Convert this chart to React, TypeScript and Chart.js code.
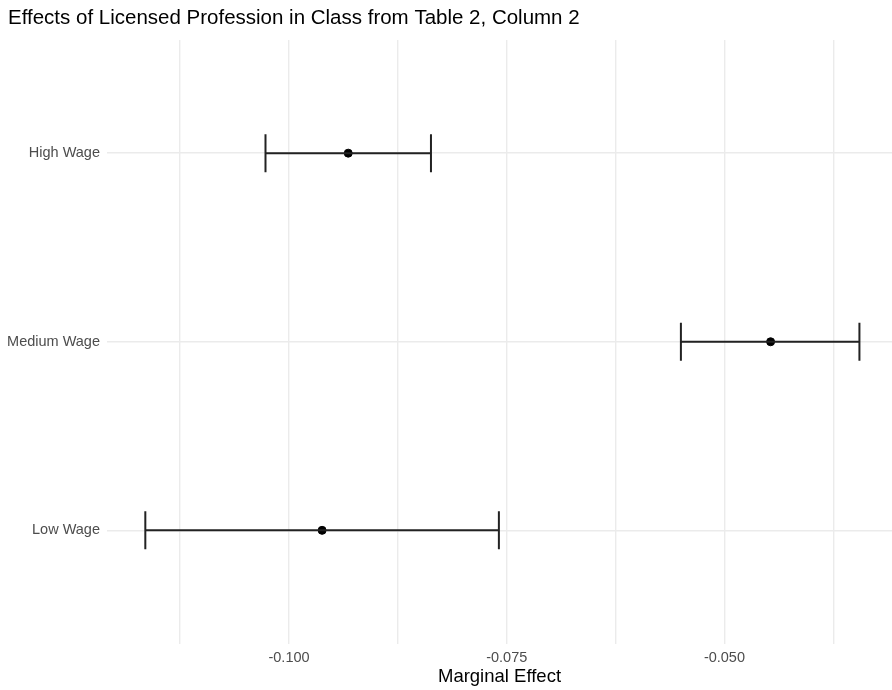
import React, { useEffect, useRef } from "react";
import { Chart, registerables } from "chart.js";

Chart.register(...registerables);

const categories = ["High Wage", "Medium Wage", "Low Wage"];
const estimates = [-0.0932, -0.0447, -0.0962];
const lowerBounds = [-0.1027, -0.0550, -0.1165];
const upperBounds = [-0.0837, -0.0345, -0.0759];
const xTickValues = [-0.1125, -0.1, -0.0875, -0.075, -0.0625, -0.05, -0.0375];
const xTickLabels = ["", "-0.100", "", "-0.075", "", "-0.050", ""];

const FONT = "'Liberation Sans', Arial, Helvetica, sans-serif";

// category k (0 = top) -> position on the linear y scale
const catPos = (i: number) => categories.length - i;

const errorBarPlugin = {
  id: "errorBars",
  afterDatasetsDraw(chart: any) {
    const { ctx, scales } = chart;
    const xs = scales.x;
    const ys = scales.y;
    ctx.save();
    ctx.strokeStyle = "#222222";
    ctx.lineWidth = 2;
    const cap = 19;
    categories.forEach((_, i) => {
      const y = ys.getPixelForValue(catPos(i));
      const x0 = xs.getPixelForValue(lowerBounds[i]);
      const x1 = xs.getPixelForValue(upperBounds[i]);
      ctx.beginPath();
      ctx.moveTo(x0, y);
      ctx.lineTo(x1, y);
      ctx.moveTo(x0, y - cap);
      ctx.lineTo(x0, y + cap);
      ctx.moveTo(x1, y - cap);
      ctx.lineTo(x1, y + cap);
      ctx.stroke();
    });
    ctx.restore();
  },
};

export default function App() {
  const ref = useRef<HTMLCanvasElement | null>(null);
  useEffect(() => {
    if (!ref.current) return;
    const chart = new Chart(ref.current, {
      type: "scatter",
      data: {
        datasets: [
          {
            data: estimates.map((v, i) => ({ x: v, y: catPos(i) })),
            backgroundColor: "#000000",
            borderColor: "#000000",
            pointRadius: 4,
            pointHoverRadius: 4,
            order: 0,
          },
        ],
      },
      plugins: [errorBarPlugin],
      options: {
        animation: false,
        responsive: false,
        maintainAspectRatio: false,
        layout: { autoPadding: false, padding: { left: 8, right: 0, top: 0, bottom: 0 } },
        plugins: {
          legend: { display: false },
          tooltip: { enabled: false },
          title: {
            display: true,
            text: "Effects of Licensed Profession in Class from Table 2, Column 2",
            align: "start",
            color: "#000000",
            font: { family: FONT, size: 20.5, weight: "normal" },
            padding: { top: 6, bottom: 9.4 },
          },
        },
        scales: {
          x: {
            type: "linear",
            min: -0.1209,
            max: -0.03076,
            afterBuildTicks: (scale: any) => {
              scale.ticks = xTickValues.map((v) => ({ value: v }));
            },
            afterFit: (scale: any) => {
              scale.height = 46.5;
            },
            ticks: {
              autoSkip: false,
              maxRotation: 0,
              padding: 5.5,
              color: "#4d4d4d",
              font: { family: FONT, size: 14.5 },
              callback: (_v: any, idx: number) => xTickLabels[idx],
            },
            grid: {
              color: "#ebebeb",
              lineWidth: 1.4,
              drawTicks: false,
            },
            border: { display: false },
            title: {
              display: true,
              text: "Marginal Effect",
              color: "#000000",
              font: { family: FONT, size: 18.5 },
              padding: { top: 0, bottom: 1.5 },
            },
          },
          y: {
            type: "linear",
            min: 0.4,
            max: 3.6,
            afterBuildTicks: (scale: any) => {
              scale.ticks = categories.map((_, i) => ({ value: catPos(i) }));
            },
            afterFit: (scale: any) => {
              scale.width = 99;
            },
            ticks: {
              autoSkip: false,
              padding: 7,
              color: "#4d4d4d",
              font: { family: FONT, size: 14.5 },
              callback: (v: any) => {
                const i = categories.length - Number(v);
                return categories[i] ?? "";
              },
            },
            grid: {
              color: "#ebebeb",
              lineWidth: 1.4,
              drawTicks: false,
            },
            border: { display: false },
          },
        },
      },
    });
    return () => chart.destroy();
  }, []);
  return (
    <div style={{ position: "fixed", left: 0, top: 0, width: 892, height: 690, background: "#ffffff" }}>
      <canvas ref={ref} width={892} height={690} style={{ width: 892, height: 690, display: "block" }} />
    </div>
  );
}
